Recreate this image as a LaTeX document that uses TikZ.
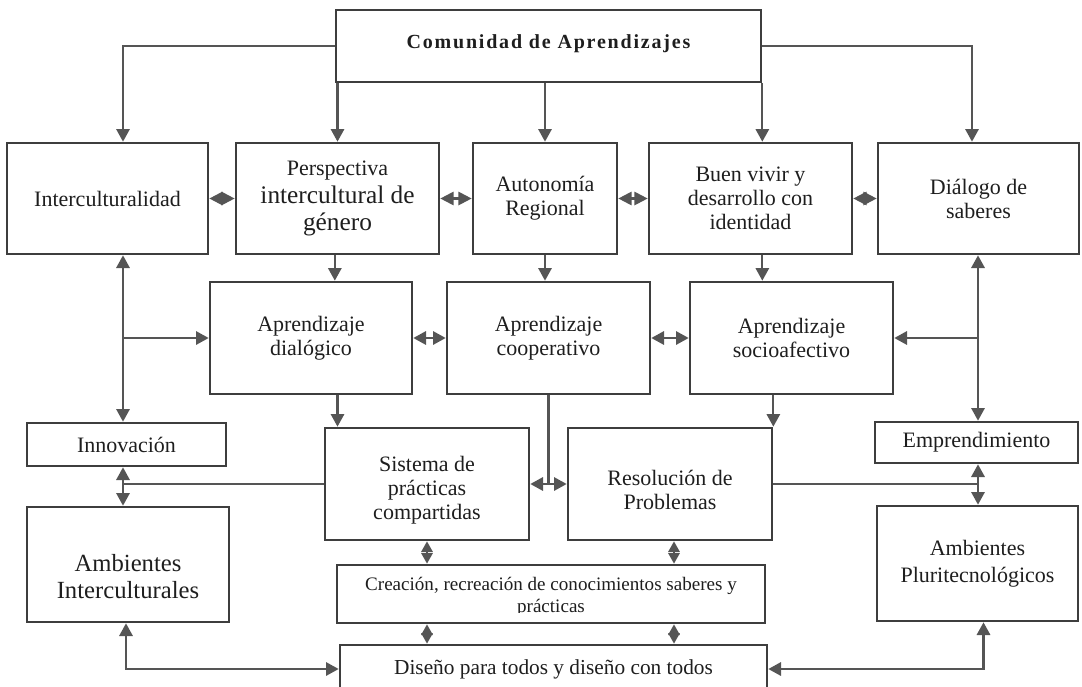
\documentclass[tikz,border=0pt]{standalone}
\usepackage{fontspec}
\setmainfont{Liberation Serif}
\newfontfamily\titlefont{Liberation Serif}[LetterSpace=9]
\usetikzlibrary{arrows.meta}
\definecolor{boxc}{HTML}{3E3E3E}
\definecolor{linec}{HTML}{555555}
\definecolor{txtc}{HTML}{1E1E1E}
\newcommand\bx[7][]{%
  \node[box, minimum width={(#5-#3)*0.75pt}, minimum height={(#6-#4)*0.75pt}] (#2) at ({(#3+#5)/2},{(#4+#6)/2}) {};
  \node[txt,#1] (#2-t) at (#2.center) {#7};}
\begin{document}
\begin{tikzpicture}[x=0.75pt,y=-0.75pt,
  box/.style={draw=boxc,line width=2pt,inner sep=0pt},
  txt/.style={text=txtc,align=center,font=\fontsize{16.5}{18}\selectfont,inner sep=0pt},
  conn/.style={draw=linec,line width=1.6pt},
  arr/.style={conn,-{Triangle[length=9.5pt,width=10pt]}},
  darr/.style={conn,{Triangle[length=9.5pt,width=10pt]}-{Triangle[length=9.5pt,width=10pt]}},
  tarr/.style={conn,{Triangle[length=10pt,width=10pt]}-{Triangle[length=10pt,width=10pt]}},
  sarr/.style={conn,{Triangle[length=8pt,width=8.5pt]}-{Triangle[length=8pt,width=8.5pt]}}]
\useasboundingbox (0,0) rectangle (1082,686);
\clip (0,0) rectangle (1082,686);

% boxes
\bx[yshift=1.5pt,font={\titlefont\bfseries\fontsize{15}{18}\selectfont}]{com}{336}{10}{761}{82}{Comunidad de Aprendizajes}
\bx{inter}{7}{143}{208}{254}{Interculturalidad}
\bx[font=\fontsize{19}{20.5}\selectfont]{persp}{236}{143}{439}{254}{{\fontsize{16.5}{18}\selectfont Perspectiva}\\intercultural de\\género}
\bx{auto}{473}{143}{617}{254}{Autonomía\\Regional}
\bx{buen}{649}{143}{852}{254}{Buen vivir y\\desarrollo con\\identidad}
\bx{dial}{878}{143}{1079}{254}{Diálogo de\\saberes}

\bx{dlg}{210}{282}{412}{394}{Aprendizaje\\dialógico}
\bx{coop}{447}{282}{650}{394}{Aprendizaje\\cooperativo}
\bx{socio}{690}{282}{893}{394}{Aprendizaje\\socioafectivo}

\bx{innov}{27}{423}{226}{466}{Innovación}
\bx[yshift=-4.5pt]{sis}{325}{428}{529}{540}{Sistema de\\prácticas\\compartidas}
\bx[yshift=-4.5pt]{resol}{568}{428}{772}{540}{Resolución de\\Problemas}
\bx{emp}{875}{422}{1078}{463}{Emprendimiento}

\bx[yshift=-9pt,font=\fontsize{18.5}{20}\selectfont]{ambi}{27}{507}{229}{622}{Ambientes\\Interculturales}
\bx[font=\fontsize{16.5}{20}\selectfont]{ambp}{877}{506}{1078}{621}{Ambientes\\Pluritecnológicos}

\node[box, minimum width={428*0.75pt}, minimum height={58*0.75pt}] (crea) at (551,594) {};
\begin{scope}
  \clip (337,560) rectangle (765,612.5);
  \node[txt,font=\fontsize{14.3}{16}\selectfont] (crea-t) at (551,597) {Creación, recreación de conocimientos saberes y\\prácticas};
\end{scope}
\bx[font=\fontsize{16}{18}\selectfont]{dis}{340}{645}{767}{693}{Diseño para todos y diseño con todos}

% helper coordinates
\coordinate (L) at (123,300);
\coordinate (R1) at (972,100);
\coordinate (R2) at (978,300);
\coordinate (px) at ([xshift=-2pt]persp.south);
\coordinate (rx) at ([xshift=3pt]resol.south);
\coordinate (ax) at ([xshift=-1.5pt]ambi.south);
\coordinate (bx) at ([xshift=4.5pt]ambp.south);

% connectors from Comunidad
\draw[arr] (com.west) -| (L |- inter.north);
\draw[arr] (com.east) -| (R1 |- dial.north);
\draw[arr] (com.south west -| persp.north) -- (persp.north);
\draw[arr] (auto.north |- com.south) -- (auto.north);
\draw[arr] (com.south east) -- (com.south east |- buen.north);

% top row double arrows
\draw[tarr] (inter.east) -- (persp.west);
\draw[tarr] (persp.east) -- (auto.west);
\draw[tarr] (auto.east) -- (buen.west);
\draw[tarr] (buen.east) -- (dial.west);

% top to middle
\draw[arr] (px) -- (px |- dlg.north);
\draw[arr] (auto.south) -- (auto.south |- coop.north);
\draw[arr] (com.south east |- buen.south) -- (com.south east |- socio.north);

\draw[darr] (dlg.east) -- (coop.west);
\draw[darr] (coop.east) -- (socio.west);

% side verticals
\draw[darr] (L |- inter.south) -- (L |- innov.north);
\draw[arr] (L |- dlg.west) -- (dlg.west);
\draw[darr] (R2 |- dial.south) -- (R2 |- emp.north);
\draw[arr] (R2 |- socio.east) -- (socio.east);

% middle to third row
\draw[arr] (persp.south |- dlg.south) -- (persp.south |- sis.north);
\draw[arr] (resol.north east |- socio.south) -- (resol.north east);
\draw[conn] (coop.south) -- (coop.south |- sis.east);
\draw[darr] (sis.east) -- (resol.west);

\draw[conn] (sis.west) -- (L |- sis.west);
\draw[darr] (L |- innov.south) -- (L |- ambi.north);
\draw[conn] (resol.east) -- (R2 |- resol.east);
\draw[darr] (R2 |- emp.south) -- (R2 |- ambp.north);

% small double arrows
\draw[sarr] (sis.south) -- (sis.south |- crea.north);
\draw[sarr] (rx) -- (rx |- crea.north);
\draw[sarr] (sis.south |- crea.south) -- (sis.south |- dis.north);
\draw[sarr] (rx |- crea.south) -- (rx |- dis.north);

% bottom
\draw[darr] (ax) |- (dis.west);
\draw[darr] (dis.east) -| (bx);
\end{tikzpicture}
\end{document}
